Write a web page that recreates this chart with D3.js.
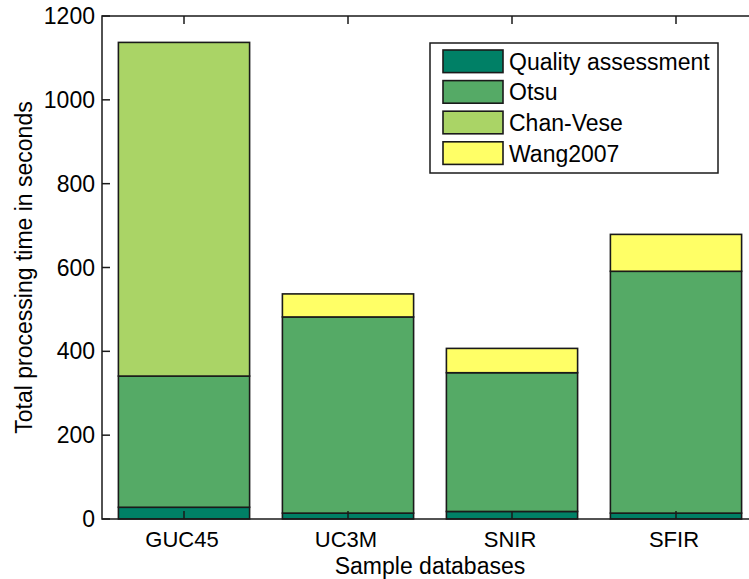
<!DOCTYPE html>
<html>
<head>
<meta charset="utf-8">
<script src="https://cdn.jsdelivr.net/npm/d3@7/dist/d3.min.js"></script>
<style>
  html, body { margin: 0; padding: 0; background: #fff; }
  svg { display: block; }
  text { font-family: "Liberation Sans", Arial, sans-serif; fill: #000; }
</style>
</head>
<body>
<svg id="chart" width="749" height="579"></svg>
<script>
// Databases on the x axis
const databases = ["GUC45", "UC3M", "SNIR", "SFIR"];

// Processing time (seconds) per stage, one array per stacked series
const seriesNames = ["Quality assessment", "Otsu", "Chan-Vese", "Wang2007"];
const qualityAssessment = [28, 14, 18, 14];
const otsu = [313, 468, 331, 577];
const chanVese = [796, 0, 0, 0];
const wang2007 = [0, 55, 58, 88];

// y axis ticks
const yTicks = [0, 200, 400, 600, 800, 1000, 1200];

// MATLAB "summer" colormap sampled at four levels
const colors = ["#008066", "#55aa66", "#aad466", "#ffff66"];

const rows = databases.map((db, i) => ({
  db,
  "Quality assessment": qualityAssessment[i],
  "Otsu": otsu[i],
  "Chan-Vese": chanVese[i],
  "Wang2007": wang2007[i]
}));
const stacked = d3.stack().keys(seriesNames)(rows);

const svg = d3.select("#chart");
const plotL = 102, plotR = 758, plotT = 16, plotB = 519;

const x = d3.scaleLinear().domain([0.5, databases.length + 0.5]).range([plotL, plotR]);
const y = d3.scaleLinear().domain([0, 1200]).range([plotB, plotT]);
const barW = x(1.4) - x(0.6);

// Bars
const g = svg.append("g");
stacked.forEach((layer, li) => {
  g.selectAll(null)
    .data(layer.filter(d => d[1] - d[0] > 0))
    .join("rect")
    .attr("x", d => x(databases.indexOf(d.data.db) + 1) - barW / 2)
    .attr("y", d => y(d[1]))
    .attr("width", barW)
    .attr("height", d => y(d[0]) - y(d[1]))
    .attr("fill", colors[li])
    .attr("stroke", "#1a1a1a")
    .attr("stroke-width", 1.6);
});

// Axes (MATLAB-style box with inward ticks)
const tickLen = 8;
const axisColor = "#1a1a1a";
const axG = svg.append("g");

axG.append("rect")
  .attr("x", plotL).attr("y", plotT)
  .attr("width", plotR - plotL).attr("height", plotB - plotT)
  .attr("fill", "none").attr("stroke", axisColor).attr("stroke-width", 1.5);

// y ticks and labels
yTicks.forEach(v => {
  axG.append("line")
    .attr("x1", plotL).attr("x2", plotL + tickLen)
    .attr("y1", y(v)).attr("y2", y(v))
    .attr("stroke", axisColor).attr("stroke-width", 1.5);
  axG.append("line")
    .attr("x1", plotR).attr("x2", plotR - tickLen)
    .attr("y1", y(v)).attr("y2", y(v))
    .attr("stroke", axisColor).attr("stroke-width", 1.5);
  axG.append("text")
    .attr("x", plotL - 7)
    .attr("y", y(v) + 8)
    .attr("text-anchor", "end")
    .attr("font-size", 23)
    .text(v);
});

// x ticks and labels
databases.forEach((db, i) => {
  const cx = x(i + 1);
  axG.append("line")
    .attr("x1", cx).attr("x2", cx)
    .attr("y1", plotB).attr("y2", plotB - tickLen)
    .attr("stroke", axisColor).attr("stroke-width", 1.5);
  axG.append("line")
    .attr("x1", cx).attr("x2", cx)
    .attr("y1", plotT).attr("y2", plotT + tickLen)
    .attr("stroke", axisColor).attr("stroke-width", 1.5);
  axG.append("text")
    .attr("x", cx - 2)
    .attr("y", 547)
    .attr("text-anchor", "middle")
    .attr("font-size", 22)
    .text(db);
});

// Axis titles
svg.append("text")
  .attr("x", 430)
  .attr("y", 574)
  .attr("text-anchor", "middle")
  .attr("font-size", 23)
  .text("Sample databases");

svg.append("text")
  .attr("transform", `translate(32, ${(plotT + plotB) / 2}) rotate(-90)`)
  .attr("text-anchor", "middle")
  .attr("font-size", 23)
  .text("Total processing time in seconds");

// Legend
const lg = svg.append("g");
lg.append("rect")
  .attr("x", 430).attr("y", 43)
  .attr("width", 288).attr("height", 130)
  .attr("fill", "#fff").attr("stroke", axisColor).attr("stroke-width", 1.5);

seriesNames.forEach((name, i) => {
  const cy = 61.3 + i * 30.6;
  lg.append("rect")
    .attr("x", 443).attr("y", cy - 11.3)
    .attr("width", 60).attr("height", 22.6)
    .attr("fill", colors[i])
    .attr("stroke", "#1a1a1a").attr("stroke-width", 1.6);
  lg.append("text")
    .attr("x", 509)
    .attr("y", cy + 8.5)
    .attr("font-size", 23)
    .text(name);
});
</script>
</body>
</html>
